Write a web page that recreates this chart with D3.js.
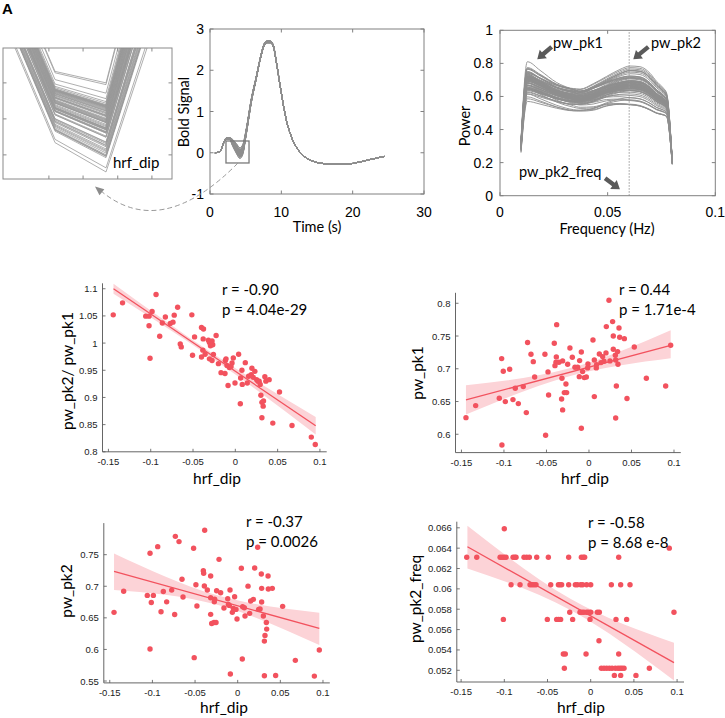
<!DOCTYPE html>
<html><head><meta charset="utf-8">
<script src="https://cdn.jsdelivr.net/npm/d3@7"></script>
<style>body{margin:0;background:#fff}svg{display:block}</style>
</head><body>
<svg id="c" width="725" height="718"></svg>
<script>
// ---------------- DATA ----------------
// Panel D : hrf_dip vs pw_pk2/pw_pk1
const dX = [-0.1443,-0.1333,-0.0937,-0.1059,-0.1020,-0.0984,-0.1020,-0.1008,-0.0894,-0.0863,
  -0.0827,-0.0769,-0.0737,-0.0722,-0.0682,-0.0651,-0.0639,-0.0514,-0.0506,-0.0482,
  -0.0400,-0.0376,-0.0380,-0.0384,-0.0400,-0.0357,-0.0318,-0.0306,-0.0294,-0.0275,
  -0.0267,-0.0306,-0.0275,-0.0259,-0.0227,-0.0200,-0.0169,-0.0122,-0.0118,-0.0110,
  -0.0098,-0.0086,-0.0071,-0.0051,-0.0039,-0.0024,-0.0004,0.0039,0.0059,0.0063,
  0.0078,0.0082,0.0118,0.0141,0.0157,0.0188,0.0196,0.0212,0.0231,0.0251,
  0.0267,0.0282,0.0294,0.0302,0.0314,0.0314,0.0329,0.0333,0.0349,0.0361,
  0.0400,0.0443,0.0522,0.0670,0.0898,0.0945];
const dY = [1.052,1.074,1.0895,1.0496,1.0496,1.058,1.032,0.972,1.0127,1.037,
  1.048,1.036,1.0385,1.0514,1.066,0.9985,0.993,1.052,0.9776,1.0114,
  1.0287,1.026,1.0077,0.987,0.9745,0.9795,1.0053,1.001,0.995,1.004,
  0.997,0.971,0.968,0.979,1.014,0.9622,0.9456,0.944,0.968,0.971,
  0.959,0.922,0.955,0.957,0.9635,0.9727,0.9266,0.9795,0.8884,0.9358,
  0.95,0.924,0.964,0.9266,0.939,0.942,0.9536,0.937,0.948,0.9327,
  0.93,0.93,0.924,0.904,0.8626,0.891,0.884,0.8934,0.938,0.93,
  0.9327,0.8528,0.91,0.8485,0.827,0.8134];
const dFitX = [-0.144, 0.095], dFitY = [1.100, 0.848];
const dBandX = [-0.144, -0.025, 0.095], dBandHi = [1.109, 0.979, 0.864], dBandLo = [1.091, 0.970, 0.832];

// Panel E : hrf_dip vs pw_pk1
const eX = [-0.1447,-0.1333,-0.1027,-0.1008,-0.0933,-0.1055,-0.0984,-0.1024,-0.0894,-0.0867,
  -0.0831,-0.0773,-0.0737,-0.0722,-0.0682,-0.0655,-0.0639,-0.0518,-0.0510,-0.0482,
  -0.0475,-0.0408,-0.0380,-0.0384,-0.0388,-0.0400,-0.0353,-0.0322,-0.0318,-0.0310,
  -0.0310,-0.0290,-0.0271,-0.0263,-0.0251,-0.0224,-0.0196,-0.0165,-0.0133,-0.0110,
  -0.0114,-0.0090,-0.0090,-0.0075,-0.0055,-0.0031,-0.0016,-0.0012,0.0047,0.0063,
  0.0063,0.0086,0.0090,0.0122,0.0141,0.0161,0.0176,0.0204,0.0200,0.0235,
  0.0247,0.0278,0.0286,0.0286,0.0310,0.0314,0.0314,0.0322,0.0337,0.0341,
  0.0353,0.0361,0.0416,0.0447,0.0533,0.0675,0.0902,0.0961];
const eY = [0.6254,0.6438,0.7155,0.6962,0.6992,0.655,0.6499,0.5837,0.6529,0.6702,
  0.6468,0.6728,0.6331,0.74,0.7221,0.7109,0.6875,0.7221,0.5985,0.6952,
  0.66,0.7389,0.7674,0.7181,0.7099,0.7048,0.7099,0.6539,0.6855,0.6372,
  0.712,0.6636,0.6768,0.6636,0.7069,0.7318,0.7176,0.7023,0.7023,0.7125,
  0.688,0.7257,0.6092,0.6957,0.6865,0.6875,0.7013,0.7074,0.744,0.7135,
  0.6575,0.7013,0.7064,0.7226,0.7094,0.7186,0.7115,0.7644,0.7242,0.8046,
  0.712,0.772,0.7501,0.7298,0.7206,0.7135,0.6249,0.6738,0.7262,0.7069,
  0.7623,0.7481,0.746,0.6545,0.7333,0.6855,0.6738,0.7359];
const eFitX = [-0.1447, 0.0961], eFitY = [0.6524, 0.7359];
const eBandX = [-0.1447, -0.024, 0.0961], eBandHi = [0.675, 0.7003, 0.759], eBandLo = [0.630, 0.6883, 0.716];

// Panel F : hrf_dip vs pw_pk2
const fX = [-0.145,-0.1337,-0.1028,-0.0938,-0.106,-0.0989,-0.1013,-0.1028,-0.0899,-0.0872,
  -0.0833,-0.0774,-0.0739,-0.0731,-0.0688,-0.0653,-0.0641,-0.0517,-0.051,-0.049,
  -0.0478,-0.0387,-0.0403,-0.0399,-0.0391,-0.0356,-0.0317,-0.0317,-0.0317,-0.0305,
  -0.0278,-0.0254,-0.0274,-0.027,-0.0247,-0.0219,-0.02,-0.0161,-0.0117,-0.0109,
  -0.0098,-0.009,-0.0086,-0.0063,-0.0051,-0.0036,-0.002,-0.0008,0.0043,0.0054,
  0.0058,0.0078,0.0086,0.0121,0.014,0.0152,0.0184,0.0199,0.0234,0.0246,
  0.0262,0.0277,0.0281,0.0281,0.0301,0.0313,0.0313,0.032,0.0336,0.034,
  0.0356,0.0359,0.0406,0.0445,0.0527,0.0676,0.0899,0.0957];
const fY = [0.6587,0.692,0.7522,0.7627,0.6855,0.6855,0.6744,0.6007,0.6597,0.6917,
  0.6753,0.6939,0.6553,0.779,0.7707,0.711,0.683,0.7601,0.587,0.7025,
  0.6687,0.7886,0.7247,0.7205,0.7004,0.694,0.7162,0.6819,0.6555,0.6411,
  0.6427,0.6427,0.6755,0.6797,0.6929,0.7426,0.6898,0.6655,0.6802,0.6713,
  0.6697,0.694,0.5612,0.6587,0.665,0.6835,0.6634,0.6481,0.7284,0.5849,
  0.6676,0.666,0.6528,0.7002,0.6571,0.6766,0.6792,0.7289,0.7617,0.6634,
  0.6639,0.7194,0.6967,0.675,0.6528,0.6132,0.5583,0.6222,0.6427,0.6322,
  0.7162,0.6956,0.6967,0.5588,0.6682,0.5827,0.5578,0.599];
const fFitX = [-0.145, 0.0957], fFitY = [0.7236, 0.6333];
const fBandX = [-0.145, -0.025, 0.0957], fBandHi = [0.752, 0.686, 0.658], fBandLo = [0.694, 0.671, 0.607];

// Panel G : hrf_dip vs pw_pk2_freq
const gX = [-0.1, 0.091,
  -0.1435,-0.1319,-0.1049,-0.1026,-0.1003,-0.098,-0.0899,-0.0879,-0.0864,-0.0772,-0.0741,-0.071,-0.0625,-0.049,-0.0255,-0.0108,-0.0085,-0.007,0.0324,
  -0.0922,-0.0818,-0.0702,-0.0679,-0.0656,-0.0633,-0.0463,-0.0374,-0.0355,-0.0336,-0.0255,-0.0178,-0.0155,-0.0116,-0.0093,-0.0047,0,0.0239,0.0347,0.0455,
  -0.0243,-0.0124,-0.0101,-0.0078,-0.0047,-0.0027,0,0.0077,0.01,0.0964,
  -0.1011,-0.0502,-0.0394,-0.0371,-0.0348,-0.0209,-0.0008,0.0293,0.0416,
  0.0096,
  -0.0317,-0.0294,-0.0054,0.0324,
  -0.0305,0.0123,0.0154,0.0185,0.0216,0.0247,0.0285,0.0316,0.034,0.0362,0.0386,0.0679,
  0.0274,0.0347,0.0524];
const gY = [0.0659, 0.0640,
  0.0631,0.0631,0.0631,0.0631,0.0631,0.0631,0.0631,0.0631,0.0631,0.0631,0.0631,0.0631,0.0631,0.0631,0.0631,0.0631,0.0631,0.0631,0.0631,
  0.0604,0.0604,0.0604,0.0604,0.0604,0.0604,0.0604,0.0604,0.0604,0.0604,0.0604,0.0604,0.0604,0.0604,0.0604,0.0604,0.0604,0.0604,0.0604,0.0604,
  0.0577,0.0577,0.0577,0.0577,0.0577,0.0577,0.0577,0.0577,0.0577,0.0577,
  0.0570,0.0570,0.0570,0.0570,0.0570,0.0570,0.0570,0.0570,0.0570,
  0.0549,
  0.0536,0.0536,0.0536,0.0536,
  0.0522,0.0522,0.0522,0.0522,0.0522,0.0522,0.0522,0.0522,0.0522,0.0522,0.0522,0.0522,
  0.0515,0.0515,0.0515];
const gFitX = [-0.1427, 0.0964], gFitY = [0.06414, 0.05275];
const gBandX = [-0.1427, -0.023, 0.0964], gBandHi = [0.0662, 0.0590, 0.0547], gBandLo = [0.0620, 0.0579, 0.0510];

// Panel B : HRF envelope (lowest / highest dip curves)
const hrfT    = [0.7,1.4,1.9,2.25,2.7,3.2,3.7,4.2,4.6,5.05,5.8,6.5,7.1,7.7,8.1,8.5,8.9,9.4,10.0,10.7,11.4,12.1,13.3,14.9,16.5,18.5,20.0,22.0,24.4];
const hrfLow  = [0,0.03,0.22,0.32,0.33,0.15,-0.02,-0.14,-0.04,0.40,1.22,1.80,2.30,2.62,2.66,2.66,2.55,2.08,1.44,0.79,0.39,0.14,-0.10,-0.23,-0.27,-0.28,-0.26,-0.18,-0.09];
const hrfHigh = [0,0.03,0.24,0.36,0.37,0.32,0.22,0.12,0.20,0.55,1.32,1.86,2.34,2.68,2.72,2.71,2.60,2.10,1.45,0.79,0.39,0.14,-0.10,-0.23,-0.27,-0.28,-0.26,-0.18,-0.09];
// Panel A : sampled nodes around the dip (lowest / highest curves)
const aNodeT = [2.2, 3.2, 4.2, 5.2];
const aNodeLow = [0.259, -0.066, -0.145, 0.27];
const aNodeHigh = [0.447, 0.126, 0.095, 0.63];
const aTickX = [3.08, 3.75, 4.43, 5.1], aTickY = [-0.099, -0.002, 0.095];
// Panel C : power spectra envelope
const freqGrid = [0.00975,0.0127,0.0186,0.0263,0.0341,0.0372,0.0433,0.0495,0.0557,0.0604,0.065,0.0697,0.0728,0.0759,0.0774,0.08];
const powHigh  = [0.34,0.81,0.77,0.71,0.68,0.67,0.70,0.736,0.77,0.784,0.78,0.74,0.69,0.65,0.62,0.22];
const powLow   = [0.26,0.57,0.55,0.52,0.50,0.50,0.506,0.534,0.548,0.55,0.542,0.518,0.498,0.488,0.478,0.19];
const powMix   = [0,0,0.1,0.25,0.4,0.5,0.6,0.75,0.9,1,1,1,1,1,1,1];
const pk2FreqLine = 0.06;
const bTicksX = [0,10,20,30], bTicksY = [-1,0,1,2,3];
const cTicksX = [0,0.05,0.1], cTicksY = [0,0.2,0.4,0.6,0.8,1];

// ---------------- DRAW ----------------
const svg = d3.select("#c");
const FT = "'Liberation Sans', Arial, sans-serif";
const FA = "Lato, 'Open Sans', sans-serif";
const GRAY = "#8e8e8e";
const defs = svg.append("defs");

function boxFrame(g, x, y, tx, ty, col) {
  const [x0, x1] = x.range(), [y0, y1] = y.range();
  g.append("rect").attr("x", x0).attr("y", y1).attr("width", x1 - x0).attr("height", y0 - y1)
    .attr("fill", "none").attr("stroke", col).attr("stroke-width", 1);
  const L = 3.5;
  tx.forEach(v => {
    g.append("line").attr("x1", x(v)).attr("x2", x(v)).attr("y1", y0).attr("y2", y0 - L).attr("stroke", col);
    g.append("line").attr("x1", x(v)).attr("x2", x(v)).attr("y1", y1).attr("y2", y1 + L).attr("stroke", col);
  });
  ty.forEach(v => {
    g.append("line").attr("y1", y(v)).attr("y2", y(v)).attr("x1", x0).attr("x2", x0 + L).attr("stroke", col);
    g.append("line").attr("y1", y(v)).attr("y2", y(v)).attr("x1", x1).attr("x2", x1 - L).attr("stroke", col);
  });
}

// Panel label
svg.append("text").attr("x", 2).attr("y", 14).attr("font-family", FT).attr("font-weight", "bold")
  .attr("font-size", 15).text("A");

// ----- Panel A -----
const gA = svg.append("g");
const aX = d3.scaleLinear().domain([2.18, 5.494]).range([3, 172]);
const aY = d3.scaleLinear().domain([-0.164, 0.189]).range([179, 48]);
defs.append("clipPath").attr("id", "clipA").append("rect").attr("x", 3).attr("y", 48).attr("width", 169).attr("height", 131);
const dExt = d3.extent(dX);
const fracD = d => (d - dExt[0]) / (dExt[1] - dExt[0]);
gA.append("g").attr("clip-path", "url(#clipA)").selectAll("path").data(dX).join("path")
  .attr("d", d => d3.line()(aNodeT.map((t, k) => [aX(t), aY(aNodeLow[k] + fracD(d) * (aNodeHigh[k] - aNodeLow[k]))])))
  .attr("fill", "none").attr("stroke", "#9a9a9a").attr("stroke-width", 0.8);
boxFrame(gA, aX, aY, aTickX, aTickY, "#8a8a8a");
gA.append("text").attr("x", 113).attr("y", 168).attr("font-family", FA).attr("font-size", 15).text("hrf_dip");

// ----- Panel B -----
const gB = svg.append("g");
const bX = d3.scaleLinear().domain([0, 30]).range([210, 424]);
const bY = d3.scaleLinear().domain([-1, 3]).range([194, 29]);
const hrfLine = d3.line().curve(d3.curveMonotoneX).x(p => bX(p[0])).y(p => bY(p[1]));
gB.append("g").selectAll("path").data(dX).join("path")
  .attr("d", d => hrfLine(hrfT.map((t, k) => [t, hrfLow[k] + fracD(d) * (hrfHigh[k] - hrfLow[k])])))
  .attr("fill", "none").attr("stroke", GRAY).attr("stroke-width", 1);
boxFrame(gB, bX, bY, bTicksX, bTicksY, "#808080");
gB.append("rect").attr("x", bX(2.24)).attr("y", bY(0.285)).attr("width", bX(5.47) - bX(2.24))
  .attr("height", bY(-0.248) - bY(0.285)).attr("fill", "none").attr("stroke", "#7a7a7a").attr("stroke-width", 1.3);
bTicksX.forEach(v => gB.append("text").attr("x", bX(v)).attr("y", 217).attr("text-anchor", "middle")
  .attr("font-family", FT).attr("font-size", 14).text(v));
bTicksY.forEach(v => gB.append("text").attr("x", 204).attr("y", bY(v) + 5).attr("text-anchor", "end")
  .attr("font-family", FT).attr("font-size", 14).text(v));
gB.append("text").attr("transform", "translate(189,112) rotate(-90)").attr("text-anchor", "middle")
  .attr("font-family", FA).attr("font-size", 14.5).text("Bold Signal");
gB.append("text").attr("x", 317).attr("y", 232).attr("text-anchor", "middle")
  .attr("font-family", FA).attr("font-size", 14.5).text("Time (s)");
// dashed connector arrow (box -> zoom panel)
gB.append("path").attr("d", "M238,163 Q161,241 101,191").attr("fill", "none")
  .attr("stroke", "#999").attr("stroke-width", 1).attr("stroke-dasharray", "5,3");
(function () {
  const T = [95, 186.5], u = [-0.767, -0.641], n = [0.641, -0.767];
  const b = [T[0] - 9 * u[0], T[1] - 9 * u[1]];
  gB.append("path").attr("d", `M${T}L${b[0] + 3.8 * n[0]},${b[1] + 3.8 * n[1]}L${b[0] - 3.8 * n[0]},${b[1] - 3.8 * n[1]}Z`)
    .attr("fill", "#8c8c8c");
})();

// ----- Panel C -----
const gC = svg.append("g");
const cX = d3.scaleLinear().domain([0, 0.1]).range([500, 715.3]);
const cY = d3.scaleLinear().domain([0, 1]).range([195.7, 30.3]);
const e1 = d3.extent(eY), e2 = d3.extent(fY);
const nC = Math.min(eY.length, fY.length);
const powLine = d3.line().curve(d3.curveMonotoneX).x(p => cX(p[0])).y(p => cY(p[1]));
gC.append("g").selectAll("path").data(d3.range(nC)).join("path")
  .attr("d", i => {
    const r1 = (eY[i] - e1[0]) / (e1[1] - e1[0]), r2 = (fY[i] - e2[0]) / (e2[1] - e2[0]);
    return powLine(freqGrid.map((f, k) => {
      const r = (1 - powMix[k]) * r1 + powMix[k] * r2;
      return [f, powLow[k] + r * (powHigh[k] - powLow[k])];
    }));
  })
  .attr("fill", "none").attr("stroke", GRAY).attr("stroke-width", 0.9);
gC.append("line").attr("x1", cX(pk2FreqLine)).attr("x2", cX(pk2FreqLine)).attr("y1", cY(0)).attr("y2", cY(1))
  .attr("stroke", "#999").attr("stroke-width", 1).attr("stroke-dasharray", "1.5,1.5");
boxFrame(gC, cX, cY, cTicksX, cTicksY, "#808080");
cTicksX.forEach(v => gC.append("text").attr("x", cX(v)).attr("y", 217).attr("text-anchor", "middle")
  .attr("font-family", FT).attr("font-size", 14).text(v));
cTicksY.forEach(v => gC.append("text").attr("x", 493).attr("y", cY(v) + 5).attr("text-anchor", "end")
  .attr("font-family", FT).attr("font-size", 14).text(v));
gC.append("text").attr("transform", "translate(470,126) rotate(-90)").attr("text-anchor", "middle")
  .attr("font-family", FA).attr("font-size", 14.5).text("Power");
gC.append("text").attr("x", 607).attr("y", 234).attr("text-anchor", "middle")
  .attr("font-family", FA).attr("font-size", 14.5).text("Frequency (Hz)");
function blockArrow(g, x1, y1, x2, y2) {
  const dx = x2 - x1, dy = y2 - y1, len = Math.hypot(dx, dy), u = [dx / len, dy / len], n = [-u[1], u[0]];
  const hl = 8, hw = 5.5, sw = 2.2;
  const b = [x2 - hl * u[0], y2 - hl * u[1]];
  const pts = [
    [x1 + sw * n[0], y1 + sw * n[1]], [b[0] + sw * n[0], b[1] + sw * n[1]], [b[0] + hw * n[0], b[1] + hw * n[1]],
    [x2, y2], [b[0] - hw * n[0], b[1] - hw * n[1]], [b[0] - sw * n[0], b[1] - sw * n[1]], [x1 - sw * n[0], y1 - sw * n[1]]];
  g.append("path").attr("d", "M" + pts.join("L") + "Z").attr("fill", "#5a5a5a");
}
blockArrow(gC, cX(0.024), cY(0.90), cX(0.0173), cY(0.825));
blockArrow(gC, cX(0.0689), cY(0.90), cX(0.0619), cY(0.825));
blockArrow(gC, cX(0.0488), cY(0.105), cX(0.0557), cY(0.039));
gC.append("text").attr("x", 553).attr("y", 48).attr("font-family", FA).attr("font-size", 14.5).text("pw_pk1");
gC.append("text").attr("x", 651).attr("y", 48).attr("font-family", FA).attr("font-size", 14.5).text("pw_pk2");
gC.append("text").attr("x", 519).attr("y", 177).attr("font-family", FA).attr("font-size", 14.5).text("pw_pk2_freq");

// ----- Scatter panels -----
const RED = "#f2525e";
function scatter(o) {
  const g = svg.append("g");
  const x = d3.scaleLinear().domain(o.xDom).range(o.xRange);
  const y = d3.scaleLinear().domain(o.yDom).range(o.yRange);
  const [x0, x1] = o.xRange, [y0, y1] = o.yRange;
  const AX = "#555";
  g.append("path").datum(o.bandX.map((v, i) => [v, o.bandLo[i], o.bandHi[i]]))
    .attr("d", d3.area().curve(d3.curveNatural).x(p => x(p[0])).y0(p => y(p[1])).y1(p => y(p[2])))
    .attr("fill", "#fcd3d7");
  g.append("path").datum(o.fitX.map((v, i) => [v, o.fitY[i]]))
    .attr("d", d3.line().x(p => x(p[0])).y(p => y(p[1]))).attr("stroke", RED).attr("stroke-width", 1.3).attr("fill", "none");
  g.append("g").selectAll("circle").data(o.xs.map((v, i) => [v, o.ys[i]])).join("circle")
    .attr("cx", p => x(p[0])).attr("cy", p => y(p[1])).attr("r", 2.7).attr("fill", RED);
  g.append("line").attr("x1", x0).attr("x2", x0).attr("y1", y0).attr("y2", y1).attr("stroke", AX).attr("stroke-width", 0.9);
  g.append("line").attr("x1", x0).attr("x2", x1).attr("y1", y0).attr("y2", y0).attr("stroke", AX).attr("stroke-width", 0.9);
  o.tx.forEach(v => {
    g.append("line").attr("x1", x(v)).attr("x2", x(v)).attr("y1", y0).attr("y2", y0 - 3).attr("stroke", AX).attr("stroke-width", 0.8);
    g.append("text").attr("x", x(v)).attr("y", y0 + 13).attr("text-anchor", "middle").attr("font-family", FT)
      .attr("font-size", 9.5).attr("fill", "#222").text(String(v));
  });
  o.ty.forEach(v => {
    g.append("line").attr("x1", x0).attr("x2", x0 + 3).attr("y1", y(v)).attr("y2", y(v)).attr("stroke", AX).attr("stroke-width", 0.8);
    g.append("text").attr("x", x0 - 5).attr("y", y(v) + 3.5).attr("text-anchor", "end").attr("font-family", FT)
      .attr("font-size", 9.5).attr("fill", "#222").text(String(v));
  });
  g.append("text").attr("transform", `translate(${o.ylab[1]},${o.ylab[2]}) rotate(-90)`).attr("text-anchor", "middle")
    .attr("font-family", FA).attr("font-size", 15.5).text(o.ylab[0]);
  g.append("text").attr("x", o.xlab[0]).attr("y", o.xlab[1]).attr("text-anchor", "middle")
    .attr("font-family", FA).attr("font-size", 15.5).text("hrf_dip");
  g.append("text").attr("x", o.stat[0]).attr("y", o.stat[1]).attr("font-family", FA).attr("font-size", 15).text(o.stat[2]);
  g.append("text").attr("x", o.stat[0]).attr("y", o.stat[1] + 20).attr("font-family", FA).attr("font-size", 15).text(o.stat[3]);
}
const xTicks = [-0.15, -0.1, -0.05, 0, 0.05, 0.1];
scatter({xs: dX, ys: dY, xDom: [-0.157, 0.108], xRange: [102.5, 326.7], yDom: [0.8, 1.11], yRange: [451.8, 283.3],
  tx: xTicks, ty: [0.8, 0.85, 0.9, 0.95, 1, 1.05, 1.1], fitX: dFitX, fitY: dFitY, bandX: dBandX, bandHi: dBandHi, bandLo: dBandLo,
  ylab: ["pw_pk2/ pw_pk1", 73, 371], xlab: [217, 484], stat: [222, 295, "r = -0.90", "p = 4.04e-29"]});
scatter({xs: eX, ys: eY, xDom: [-0.157, 0.108], xRange: [455.5, 680.8], yDom: [0.572, 0.816], yRange: [452.6, 292.8],
  tx: xTicks, ty: [0.6, 0.65, 0.7, 0.75, 0.8], fitX: eFitX, fitY: eFitY, bandX: eBandX, bandHi: eBandHi, bandLo: eBandLo,
  ylab: ["pw_pk1", 423, 373], xlab: [585, 484], stat: [619, 295, "r = 0.44", "p = 1.71e-4"]});
scatter({xs: fX, ys: fY, xDom: [-0.157, 0.108], xRange: [103.8, 329.8], yDom: [0.547, 0.8], yRange: [682.9, 523.1],
  tx: xTicks, ty: [0.55, 0.6, 0.65, 0.7, 0.75], fitX: fFitX, fitY: fFitY, bandX: fBandX, bandHi: fBandHi, bandLo: fBandLo,
  ylab: ["pw_pk2", 72, 591], xlab: [224, 713], stat: [246, 527, "r = -0.37", "p = 0.0026"]});
scatter({xs: gX, ys: gY, xDom: [-0.155, 0.108], xRange: [456.8, 684.0], yDom: [0.05085, 0.0666], yRange: [682, 521.7],
  tx: xTicks, ty: [0.052, 0.054, 0.056, 0.058, 0.06, 0.062, 0.064, 0.066], fitX: gFitX, fitY: gFitY, bandX: gBandX, bandHi: gBandHi, bandLo: gBandLo,
  ylab: ["pw_pk2_freq", 421, 599], xlab: [581, 713], stat: [588, 528, "r = -0.58", "p = 8.68 e-8"]});
</script>
</body></html>
